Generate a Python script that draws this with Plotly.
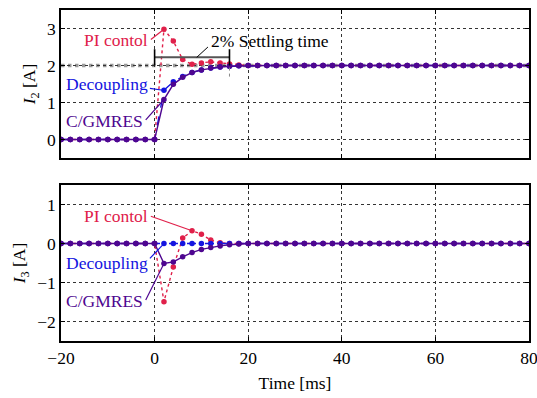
import plotly.graph_objects as go
from plotly.subplots import make_subplots

# Time axis [ms], sampled every 2 ms
time_ms = [-20, -18, -16, -14, -12, -10, -8, -6, -4, -2, 0,
           2, 4, 6, 8, 10, 12, 14, 16, 18, 20,
           22, 24, 26, 28, 30, 32, 34, 36, 38, 40,
           42, 44, 46, 48, 50, 52, 54, 56, 58, 60,
           62, 64, 66, 68, 70, 72, 74, 76, 78, 80]

# I2 [A]
i2_pi = [0, 0, 0, 0, 0, 0, 0, 0, 0, 0, 0,
         2.98, 2.66, 2.16, 2.03, 2.07, 2.10, 2.07, 2.04, 2.01, 2.0,
         2.0, 2.0, 2.0, 2.0, 2.0, 2.0, 2.0, 2.0, 2.0, 2.0,
         2.0, 2.0, 2.0, 2.0, 2.0, 2.0, 2.0, 2.0, 2.0, 2.0,
         2.0, 2.0, 2.0, 2.0, 2.0, 2.0, 2.0, 2.0, 2.0, 2.0]
i2_dec = [0, 0, 0, 0, 0, 0, 0, 0, 0, 0, 0,
          1.33, 1.56, 1.70, 1.81, 1.88, 1.93, 1.96, 1.98, 1.99, 2.0,
          2.0, 2.0, 2.0, 2.0, 2.0, 2.0, 2.0, 2.0, 2.0, 2.0,
          2.0, 2.0, 2.0, 2.0, 2.0, 2.0, 2.0, 2.0, 2.0, 2.0,
          2.0, 2.0, 2.0, 2.0, 2.0, 2.0, 2.0, 2.0, 2.0, 2.0]
i2_cg = [0, 0, 0, 0, 0, 0, 0, 0, 0, 0, 0,
         1.08, 1.49, 1.68, 1.81, 1.88, 1.93, 1.96, 1.98, 1.99, 2.0,
         2.0, 2.0, 2.0, 2.0, 2.0, 2.0, 2.0, 2.0, 2.0, 2.0,
         2.0, 2.0, 2.0, 2.0, 2.0, 2.0, 2.0, 2.0, 2.0, 2.0,
         2.0, 2.0, 2.0, 2.0, 2.0, 2.0, 2.0, 2.0, 2.0, 2.0]

# I3 [A]
i3_pi = [0, 0, 0, 0, 0, 0, 0, 0, 0, 0, 0,
         -1.49, -0.60, 0.14, 0.33, 0.24, 0.09, 0.02, 0.0, 0.0, 0.0,
         0, 0, 0, 0, 0, 0, 0, 0, 0, 0,
         0, 0, 0, 0, 0, 0, 0, 0, 0, 0,
         0, 0, 0, 0, 0, 0, 0, 0, 0, 0]
i3_dec = [0, 0, 0, 0, 0, 0, 0, 0, 0, 0, 0,
          0, 0, 0, 0, 0, 0, 0, 0, 0, 0,
          0, 0, 0, 0, 0, 0, 0, 0, 0, 0,
          0, 0, 0, 0, 0, 0, 0, 0, 0, 0,
          0, 0, 0, 0, 0, 0, 0, 0, 0, 0]
i3_cg = [0, 0, 0, 0, 0, 0, 0, 0, 0, 0, 0,
         -0.51, -0.47, -0.34, -0.23, -0.15, -0.10, -0.06, -0.03, -0.01, 0.0,
         0, 0, 0, 0, 0, 0, 0, 0, 0, 0,
         0, 0, 0, 0, 0, 0, 0, 0, 0, 0,
         0, 0, 0, 0, 0, 0, 0, 0, 0, 0]

RED = "#e0204a"
BLUE = "#1414e0"
PURPLE = "#4e0690"
FONT = "Liberation Serif"
FS = 17.5

fig = make_subplots(rows=2, cols=1, shared_xaxes=True)

styles = [("PI contol", RED, "dot"), ("Decoupling", BLUE, "dash"), ("C/GMRES", PURPLE, "solid")]
for row, series in ((1, (i2_pi, i2_dec, i2_cg)), (2, (i3_pi, i3_dec, i3_cg))):
    for (name, color, dash), ys in zip(styles, series):
        fig.add_trace(go.Scatter(
            x=time_ms, y=ys, name=name, mode="lines+markers",
            line=dict(color=color, width=1.4, dash=dash),
            marker=dict(color=color, size=5.5),
            showlegend=False), row=row, col=1)

axis_common = dict(
    showline=True, mirror="ticks", linecolor="black", linewidth=1.5,
    ticks="inside", ticklen=4, tickcolor="black", automargin=False,
    ticklabeloverflow="allow",
    showgrid=True, gridcolor="#333", griddash="dot", gridwidth=0.7,
    zeroline=False, tickfont=dict(family=FONT, size=FS, color="black"),
)

fig.update_xaxes(range=[-20, 80], dtick=20, **axis_common)
fig.update_xaxes(showticklabels=False, row=1, col=1)
fig.update_xaxes(title=dict(text="Time [ms]", font=dict(family=FONT, size=FS, color="black"),
                            standoff=10), row=2, col=1)
fig.update_yaxes(**axis_common)
fig.update_yaxes(range=[-0.5, 3.5], tickvals=[0, 1, 2, 3], row=1, col=1,
                 title=dict(text="<i>I</i><sub>2</sub> [A]",
                            font=dict(family=FONT, size=FS, color="black"), standoff=7))
fig.update_yaxes(range=[-2.5, 1.5], tickvals=[-2, -1, 0, 1], row=2, col=1,
                 title=dict(text="<i>I</i><sub>3</sub> [A]",
                            font=dict(family=FONT, size=FS, color="black"), standoff=7))

fig.update_layout(
    width=537, height=398,
    margin=dict(l=61, r=8, t=10, b=57),
    plot_bgcolor="white", paper_bgcolor="white",
    font=dict(family=FONT, size=FS, color="black"),
    yaxis=dict(domain=[0.553, 1.0]),
    yaxis2=dict(domain=[0.0, 0.471]),
)

# +-2 % band around the 2 A reference
fig.add_shape(type="line", xref="x", yref="y", x0=-20, x1=80, y0=2, y1=2,
              line=dict(color="#9a9a9a", width=3.5, dash="dot"), layer="below")

# Settling-time bracket
fig.add_shape(type="line", xref="x", yref="y", x0=0, x1=16, y0=2.22, y1=2.22,
              line=dict(color="#555", width=2))
for xv in (0, 16):
    fig.add_shape(type="line", xref="x", yref="y", x0=xv, x1=xv, y0=2.0, y1=2.44,
                  line=dict(color="black", width=1.6))
fig.add_shape(type="line", xref="x", yref="y", x0=16, x1=16, y0=1.7, y1=2.0,
              line=dict(color="#888", width=1, dash="dot"))
fig.add_shape(type="line", xref="x", yref="y", x0=11.4, x1=9.0, y0=2.50, y1=2.22,
              line=dict(color="black", width=1))
fig.add_annotation(x=11.6, y=2.66, xref="x", yref="y", text="2% Settling time",
                   showarrow=False, xanchor="left", yanchor="middle",
                   font=dict(family=FONT, size=FS, color="black"))

# Series labels with leader lines: (text, colour, xref, yref, label x, label y, line start, line end)
labels = [
    ("PI contol", RED, "x", "y", -0.9, 2.68, (-0.8, 2.70), (2.0, 2.98)),
    ("Decoupling", BLUE, "x", "y", -0.9, 1.49, (-1.0, 1.38), (1.8, 1.33)),
    ("C/GMRES", PURPLE, "x", "y", -2.1, 0.49, (-1.9, 0.53), (2.0, 1.08)),
    ("PI contol", RED, "x2", "y2", -0.9, 0.70, (-0.8, 0.70), (8.0, 0.33)),
    ("Decoupling", BLUE, "x2", "y2", -0.9, -0.49, (-1.0, -0.38), (2.0, 0.0)),
    ("C/GMRES", PURPLE, "x2", "y2", -2.1, -1.47, (-1.9, -1.45), (2.0, -0.51)),
]
for text, color, xr, yr, lx, ly, p0, p1 in labels:
    fig.add_annotation(x=lx, y=ly, xref=xr, yref=yr, text=text, showarrow=False,
                       xanchor="right", yanchor="middle",
                       font=dict(family=FONT, size=FS, color=color))
    fig.add_shape(type="line", xref=xr, yref=yr, x0=p0[0], y0=p0[1], x1=p1[0], y1=p1[1],
                  line=dict(color=color, width=1.2))

fig.write_html("out.html")
